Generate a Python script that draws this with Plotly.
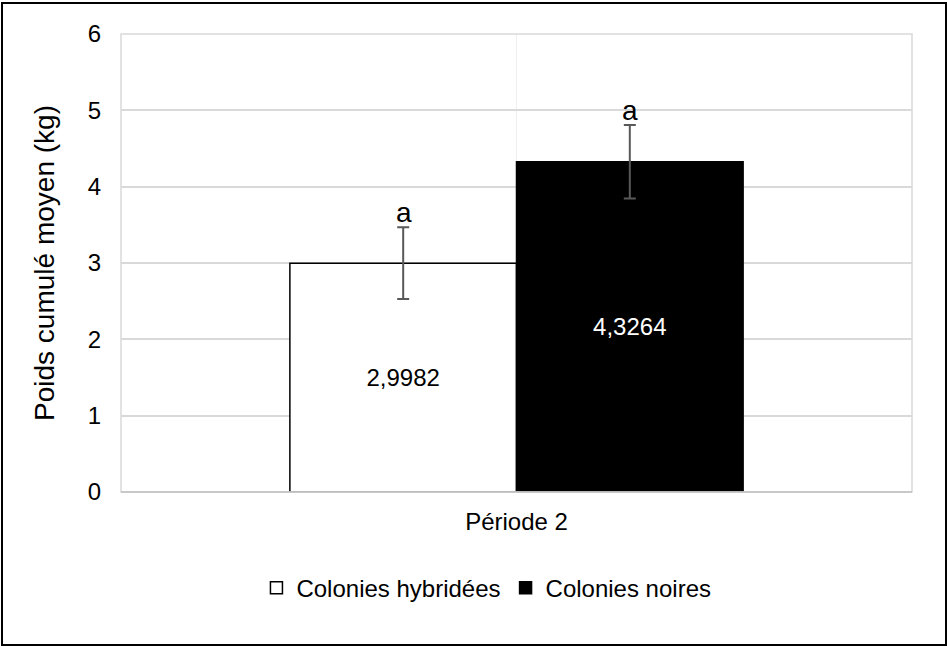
import plotly.graph_objects as go

categories = ["Période 2"]
series_names = ["Colonies hybridées", "Colonies noires"]
values_hybrid = [2.9982]
values_noires = [4.3264]
errors_hybrid = [0.47]
errors_noires = [0.48]
letters_hybrid = ["a"]
letters_noires = ["a"]
y_ticks = [0, 1, 2, 3, 4, 5, 6]

FONT = "Liberation Sans, Arial, sans-serif"

def fmt(v):
    return f"{v:.4f}".replace(".", ",")

fig = go.Figure()
fig.add_trace(go.Bar(
    name=series_names[0], x=categories, y=values_hybrid,
    marker=dict(color="white", line=dict(color="black", width=1.5)),
    error_y=dict(type="data", array=errors_hybrid, color="#595959", thickness=2, width=6),
    text=[fmt(v) for v in values_hybrid], textposition="inside", insidetextanchor="middle",
    textfont=dict(color="black", size=24, family=FONT), textangle=0,
))
fig.add_trace(go.Bar(
    name=series_names[1], x=categories, y=values_noires,
    marker=dict(color="black", line=dict(color="black", width=1.5)),
    error_y=dict(type="data", array=errors_noires, color="#595959", thickness=2, width=6),
    text=[fmt(v) for v in values_noires], textposition="inside", insidetextanchor="middle",
    textfont=dict(color="white", size=24, family=FONT), textangle=0,
))

annotations = []
for i, c in enumerate(categories):
    for off, vals, errs, letters in [(-0.5, values_hybrid, errors_hybrid, letters_hybrid),
                                     (0.5, values_noires, errors_noires, letters_noires)]:
        annotations.append(dict(
            x=c, y=vals[i] + errs[i], xref="x", yref="y", text=letters[i], showarrow=False,
            yanchor="bottom", yshift=-3, xshift=off * 226,
            font=dict(size=28, color="black", family=FONT)))

fig.update_layout(
    width=947, height=647,
    margin=dict(l=121, r=35, t=34, b=155),
    paper_bgcolor="white", plot_bgcolor="white",
    barmode="group", bargap=0.427, bargroupgap=0,
    font=dict(family=FONT, color="black", size=24),
    showlegend=True,
    legend=dict(orientation="h", x=0.462, xanchor="center", y=-0.21, yanchor="middle",
                font=dict(size=24, family=FONT), traceorder="normal"),
    xaxis=dict(showgrid=True, gridcolor="#efefef", gridwidth=1, showline=False,
               tickfont=dict(size=24), ticks="", zeroline=False, ticklabelstandoff=13),
    yaxis=dict(range=[0, 6], tickvals=y_ticks, showgrid=True, gridcolor="#d9d9d9", gridwidth=1.5,
               showline=False, zeroline=False, ticks="", ticklabelstandoff=19,
               tickfont=dict(size=24),
               title=dict(text="Poids cumulé moyen (kg)", font=dict(size=28), standoff=24)),
    annotations=annotations,
    shapes=[
        dict(type="rect", xref="paper", yref="paper", x0=0, x1=1, y0=0, y1=1,
             line=dict(color="#d9d9d9", width=1.5), layer="above"),
        dict(type="line", xref="paper", yref="paper", x0=0, x1=1, y0=0, y1=0,
             line=dict(color="#bfbfbf", width=1.5), layer="above"),
        dict(type="rect", xref="paper", yref="paper",
             x0=(2 - 121) / 791, x1=(946 - 121) / 791,
             y0=(492 - 645) / 458, y1=(492 - 3) / 458,
             line=dict(color="black", width=2), layer="below"),
    ],
)

fig.write_html("out.html", config={"displayModeBar": False},
               post_script="document.body.style.margin='0';")
